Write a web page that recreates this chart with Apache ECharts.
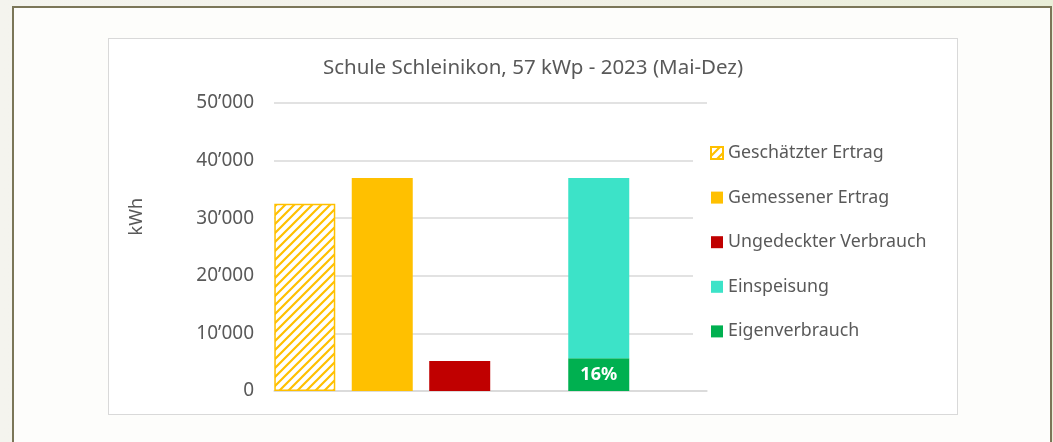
<!DOCTYPE html>
<html>
<head>
<meta charset="utf-8">
<script src="https://cdn.jsdelivr.net/npm/echarts@6/dist/echarts.min.js"></script>
<style>
  html, body { margin: 0; padding: 0; width: 1053px; height: 442px; overflow: hidden; }
  body { background: linear-gradient(90deg, #f4f4ee 0%, #f2f1e8 50%, #e9eed8 100%); }
  #panel {
    position: absolute; left: 12px; top: 6px; width: 1036px; height: 460px;
    background: #fdfdfb; border: 2px solid #7b7658;
  }
  #frame {
    position: absolute; left: 108px; top: 38px; width: 848px; height: 375px;
    background: #ffffff; border: 1px solid #d9d9d9;
  }
  #myChart { width: 848px; height: 375px; }
</style>
</head>
<body>
<div id="panel"></div>
<div id="frame"><div id="myChart"></div></div>
<script>
// Werte in kWh, Mai-Dez 2023
const groups = ['Produktion', 'Netz']
const geschaetzt = [32500, null]
const gemessen = [37000, null]
const ungedeckt = [5200, null]
const einspeisung = [null, 31300]
const eigenverbrauch = [null, 5700]
const eigenLabels = ['', '16%']
const yTicks = [0, 10000, 20000, 30000, 40000, 50000]

const textColor = '#595959'
const fontFamily = '"Noto Sans", "Open Sans", sans-serif'

// schraffur fuer den geschaetzten ertrag
function hatch () {
  const c = document.createElement('canvas')
  const s = 9
  c.width = s
  c.height = s
  const ctx = c.getContext('2d')
  ctx.fillStyle = '#ffffff'
  ctx.fillRect(0, 0, s, s)
  ctx.strokeStyle = '#FFC000'
  ctx.lineWidth = 2.2
  ctx.beginPath()
  ctx.moveTo(-s / 2, s / 2); ctx.lineTo(s / 2, -s / 2)
  ctx.moveTo(0, s); ctx.lineTo(s, 0)
  ctx.moveTo(s / 2, s * 1.5); ctx.lineTo(s * 1.5, s / 2)
  ctx.stroke()
  return c
}

const fmt = v => String(v).replace(/\B(?=(\d{3})+(?!\d))/g, '\u2019')

const chart = echarts.init(document.getElementById('myChart'))
chart.setOption({
  animation: false,
  textStyle: { fontFamily: fontFamily },
  title: {
    left: 'center',
    top: 14,
    text: 'Schule Schleinikon, 57 kWp - 2023 (Mai-Dez)',
    textStyle: { fontSize: 20.5, fontWeight: 'normal', color: textColor, fontFamily: fontFamily }
  },
  grid: { left: 165, right: 250, top: 64, bottom: 23 },
  legend: {
    orient: 'vertical',
    left: 584,
    top: 99,
    padding: [5, 10, 5, 17],
    backgroundColor: '#ffffff',
    itemWidth: 12,
    itemHeight: 12,
    itemGap: 24.6,
    icon: 'rect',
    textStyle: { fontSize: 17.8, color: textColor, lineHeight: 20 },
    data: ['Geschätzter Ertrag', 'Gemessener Ertrag', 'Ungedeckter Verbrauch', 'Einspeisung', 'Eigenverbrauch']
  },
  graphic: [{
    type: 'text',
    left: 19,
    top: 159,
    rotation: Math.PI / 2,
    style: { text: 'kWh', fontSize: 18, fill: textColor, fontFamily: fontFamily }
  }],
  xAxis: [{
    type: 'category',
    data: groups,
    axisLine: { lineStyle: { color: '#d9d9d9', width: 1.5 } },
    axisTick: { show: false },
    axisLabel: { show: false }
  }, {
    type: 'category',
    data: groups,
    show: false
  }],
  yAxis: {
    type: 'value',
    min: yTicks[0],
    max: yTicks[yTicks.length - 1],
    interval: yTicks[1] - yTicks[0],
    axisLine: { show: false },
    axisTick: { show: false },
    axisLabel: { fontSize: 19, color: textColor, margin: 20, formatter: fmt },
    splitLine: { lineStyle: { color: '#d9d9d9', width: 1.5 } }
  },
  series: [{
    name: 'Geschätzter Ertrag',
    type: 'bar',
    xAxisIndex: 0,
    barWidth: 61,
    barGap: '27%',
    itemStyle: { color: { image: hatch(), repeat: 'repeat' }, borderColor: '#FFC000', borderWidth: 1.5 },
    data: geschaetzt
  }, {
    name: 'Gemessener Ertrag',
    type: 'bar',
    xAxisIndex: 0,
    barWidth: 61,
    barGap: '27%',
    itemStyle: { color: '#FFC000' },
    data: gemessen
  }, {
    name: 'Ungedeckter Verbrauch',
    type: 'bar',
    xAxisIndex: 0,
    barWidth: 61,
    barGap: '27%',
    itemStyle: { color: '#C00000' },
    data: ungedeckt
  }, {
    name: 'Eigenverbrauch',
    type: 'bar',
    xAxisIndex: 1,
    stack: 'netz',
    barWidth: 61,
    itemStyle: { color: '#00B050' },
    label: {
      show: true,
      position: 'inside',
      color: '#ffffff',
      fontWeight: 'bold',
      fontSize: 18,
      formatter: p => eigenLabels[p.dataIndex]
    },
    data: eigenverbrauch
  }, {
    name: 'Einspeisung',
    type: 'bar',
    xAxisIndex: 1,
    stack: 'netz',
    barWidth: 61,
    itemStyle: { color: '#3CE3C8' },
    data: einspeisung
  }]
})
</script>
</body>
</html>
